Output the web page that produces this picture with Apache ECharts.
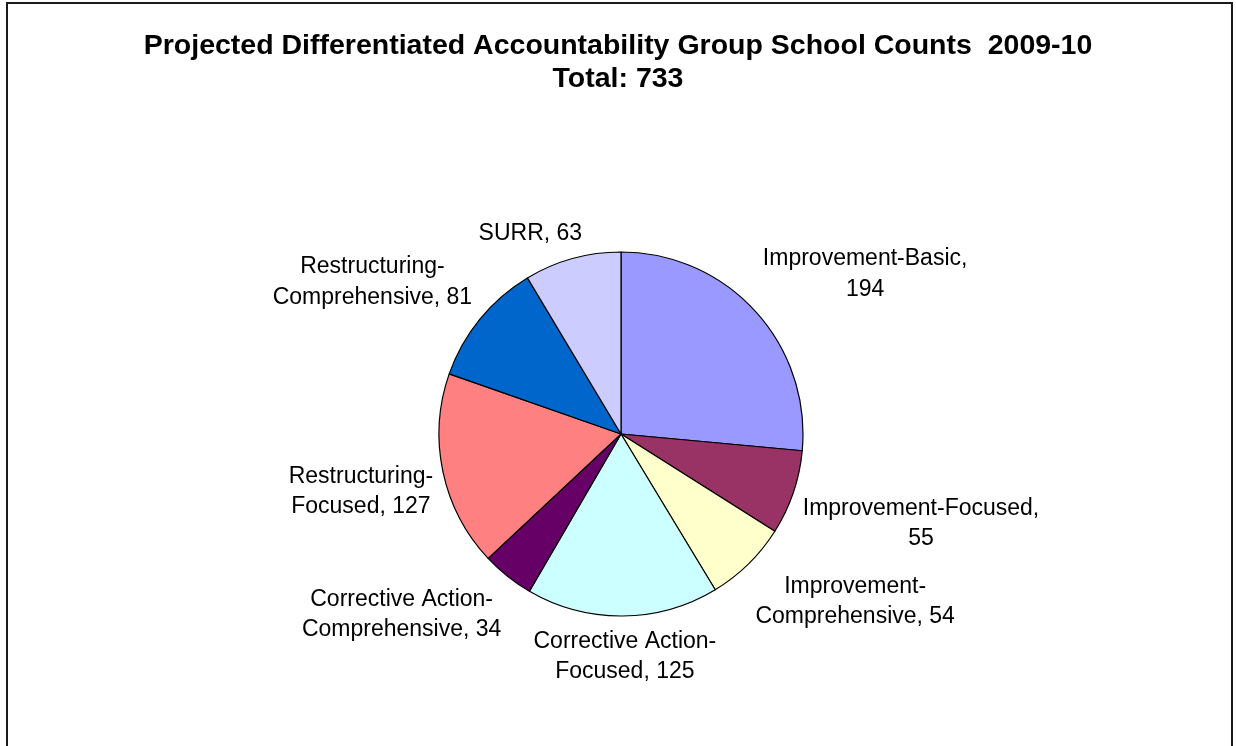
<!DOCTYPE html>
<html>
<head>
<meta charset="utf-8">
<script src="https://cdn.jsdelivr.net/npm/echarts@6/dist/echarts.min.js"></script>
<style>
  html, body { margin: 0; padding: 0; background: #ffffff; }
  #chart { width: 1236px; height: 746px; }
</style>
</head>
<body>
<div id="chart"></div>
<script>
// School counts per accountability group, 2009-10
const categories = [
  'Improvement-Basic',
  'Improvement-Focused',
  'Improvement-Comprehensive',
  'Corrective Action-Focused',
  'Corrective Action-Comprehensive',
  'Restructuring-Focused',
  'Restructuring-Comprehensive',
  'SURR'
];
const schoolCounts = [194, 55, 54, 125, 34, 127, 81, 63];
// how each label wraps: after the value comma, after the name's hyphen, or not at all
const labelBreaks = ['value', 'value', 'name', 'name', 'name', 'name', 'name', 'none'];
const titleText = 'Projected Differentiated Accountability Group School Counts  2009-10';

const sliceColors = ['#9999FF', '#993366', '#FFFFCC', '#CCFFFF', '#660066', '#FF8080', '#0066CC', '#CCCCFF'];

const total = schoolCounts.reduce((a, b) => a + b, 0);
const FONT = '"Liberation Sans", Arial, Helvetica, sans-serif';
const CX = 621, CY = 434, R = 182;
const GAP = 10;

function labelText(name, value, mode) {
  if (mode === 'value') return name + ',\n' + value;
  if (mode === 'name') {
    const k = name.lastIndexOf('-');
    return name.slice(0, k + 1) + '\n' + name.slice(k + 1) + ', ' + value;
  }
  return name + ', ' + value;
}

// place each label box just outside its slice, corner toward the slice's mid-angle
function clampUnit(t) { return Math.max(-1, Math.min(1, t / 0.35)); }

const chart = echarts.init(document.getElementById('chart'), null, { renderer: 'canvas' });

chart.setOption({
  backgroundColor: '#ffffff',
  animation: false,
  title: {
    text: titleText + '\nTotal: ' + total,
    left: 'center',
    top: 25,
    textStyle: {
      fontFamily: FONT,
      fontSize: 28.5,
      fontWeight: 'bold',
      color: '#000000',
      lineHeight: 33
    }
  },
  graphic: [{
    type: 'rect',
    shape: { x: 7, y: 3, width: 1225, height: 800 },
    style: { fill: null, stroke: '#1a1a1a', lineWidth: 2 },
    silent: true
  }],
  series: [{
    type: 'pie',
    center: [CX, CY],
    radius: R,
    startAngle: 90,
    clockwise: true,
    avoidLabelOverlap: false,
    itemStyle: { borderColor: '#000000', borderWidth: 1.2 },
    label: {
      show: true,
      position: 'outside',
      color: '#000000',
      fontFamily: FONT,
      fontSize: 23,
      lineHeight: 30.5,
      align: 'center',
      formatter: p => labelText(p.name, p.value, labelBreaks[p.dataIndex])
    },
    labelLine: { show: false },
    labelLayout: function (p) {
      const i = p.dataIndex;
      let before = 0;
      for (let k = 0; k < i; k++) before += schoolCounts[k];
      const mid = (before + schoolCounts[i] / 2) / total * 2 * Math.PI;
      const ux = Math.sin(mid), uy = -Math.cos(mid);
      const w = p.labelRect.width, h = p.labelRect.height;
      const px = CX + ux * (R + GAP), py = CY + uy * (R + GAP);
      return {
        x: px + clampUnit(ux) * w / 2,
        y: py + clampUnit(uy) * h / 2,
        align: 'center',
        verticalAlign: 'middle'
      };
    },
    emphasis: { disabled: true },
    data: categories.map((name, i) => ({
      name: name,
      value: schoolCounts[i],
      itemStyle: { color: sliceColors[i] }
    }))
  }]
});
</script>
</body>
</html>
